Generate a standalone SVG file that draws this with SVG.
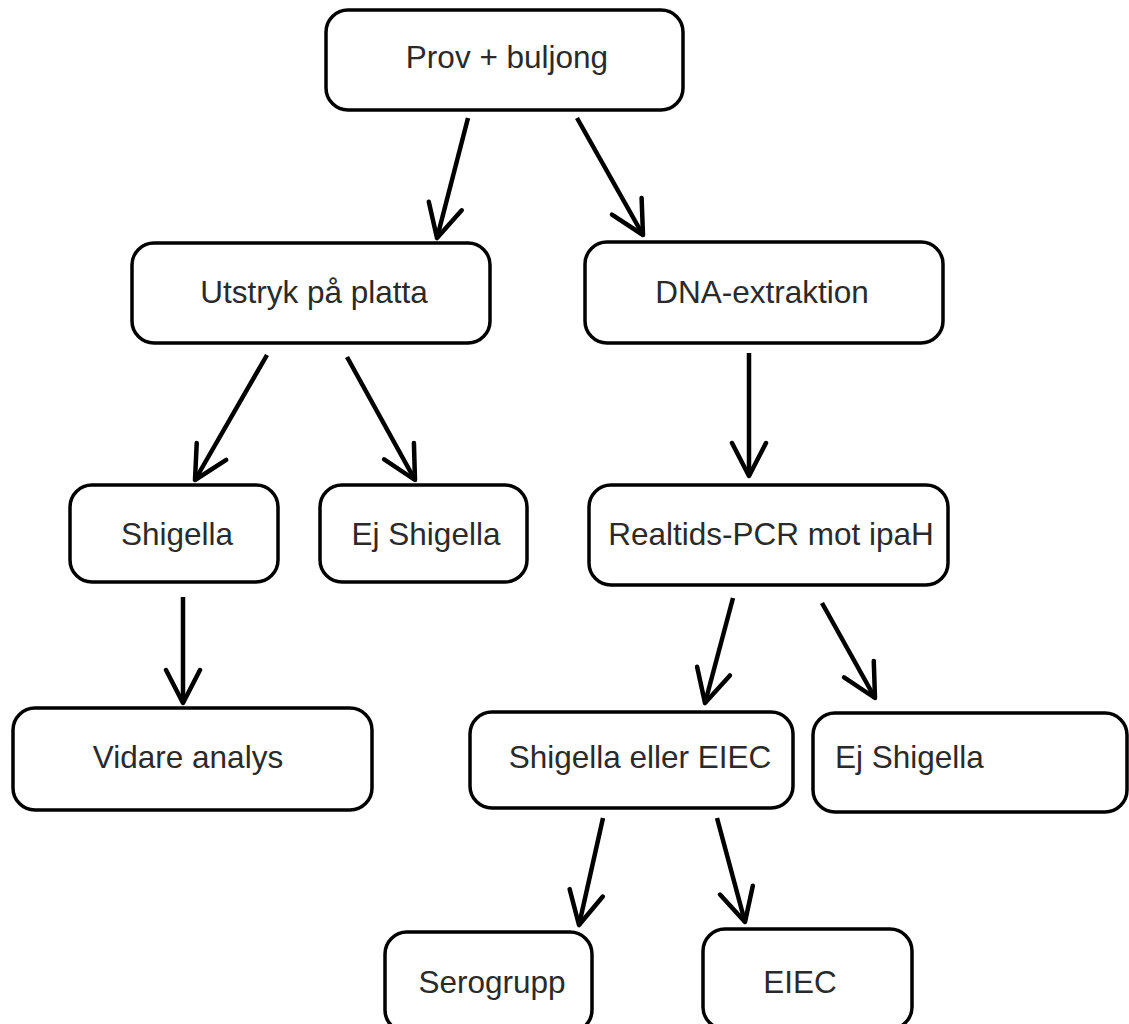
<svg xmlns="http://www.w3.org/2000/svg" width="1129" height="1024" viewBox="0 0 1129 1024">
<style>
.box{fill:#fff;stroke:#000;stroke-width:3.5}
.lbl{font-family:"Liberation Sans",Arial,sans-serif;font-size:31.5px;fill:#2a2a2a;text-anchor:middle}
.edge{fill:none;stroke:#000;stroke-width:4.5;marker-end:url(#arr)}
</style>
<defs>
<marker id="arr" markerUnits="userSpaceOnUse" markerWidth="40" markerHeight="40" viewBox="0 0 40 40" refX="37" refY="20" orient="auto">
<path d="M4,3 L37,20 L4,37" fill="none" stroke="#000" stroke-width="4.5" stroke-linejoin="round" stroke-linecap="round"/>
</marker>
</defs>
<rect width="1129" height="1024" fill="#fff"/>
<g id="connectors">
<line class="edge" x1="468" y1="118" x2="437" y2="238"/>
<line class="edge" x1="577" y1="118" x2="643" y2="235"/>
<line class="edge" x1="267" y1="355" x2="195" y2="480"/>
<line class="edge" x1="347" y1="357" x2="415" y2="480"/>
<line class="edge" x1="749" y1="353" x2="749" y2="476"/>
<line class="edge" x1="183" y1="597" x2="183" y2="703"/>
<line class="edge" x1="733" y1="598" x2="705" y2="703"/>
<line class="edge" x1="822" y1="603" x2="875" y2="698"/>
<line class="edge" x1="603" y1="818" x2="579" y2="925"/>
<line class="edge" x1="717" y1="818" x2="745" y2="922"/>
</g>
<g id="n1"><rect class="box" x="326" y="10" width="357" height="100" rx="22"/><text class="lbl" x="507" y="68">Prov + buljong</text></g>
<g id="n2"><rect class="box" x="132" y="243" width="358" height="100" rx="22"/><text class="lbl" x="314" y="303">Utstryk på platta</text></g>
<g id="n3"><rect class="box" x="585" y="242" width="358" height="101" rx="22"/><text class="lbl" x="762" y="303">DNA-extraktion</text></g>
<g id="n4"><rect class="box" x="70" y="485" width="208" height="97" rx="22"/><text class="lbl" x="177" y="545">Shigella</text></g>
<g id="n5"><rect class="box" x="320" y="485" width="207" height="97" rx="22"/><text class="lbl" x="426" y="545">Ej Shigella</text></g>
<g id="n6"><rect class="box" x="589" y="485" width="359" height="100" rx="22"/><text class="lbl" x="771" y="545">Realtids-PCR mot ipaH</text></g>
<g id="n7"><rect class="box" x="13" y="708" width="359" height="102" rx="22"/><text class="lbl" x="188" y="768">Vidare analys</text></g>
<g id="n8"><rect class="box" x="470" y="712" width="323" height="96" rx="22"/><text class="lbl" x="640" y="768">Shigella eller EIEC</text></g>
<g id="n9"><rect class="box" x="813" y="713" width="314" height="99" rx="22"/><text class="lbl" x="835" y="768" style="text-anchor:start">Ej Shigella</text></g>
<g id="n10"><rect class="box" x="385" y="932" width="207" height="100" rx="22"/><text class="lbl" x="492" y="993">Serogrupp</text></g>
<g id="n11"><rect class="box" x="703" y="929" width="209" height="100" rx="22"/><text class="lbl" x="800" y="993">EIEC</text></g>
</svg>
